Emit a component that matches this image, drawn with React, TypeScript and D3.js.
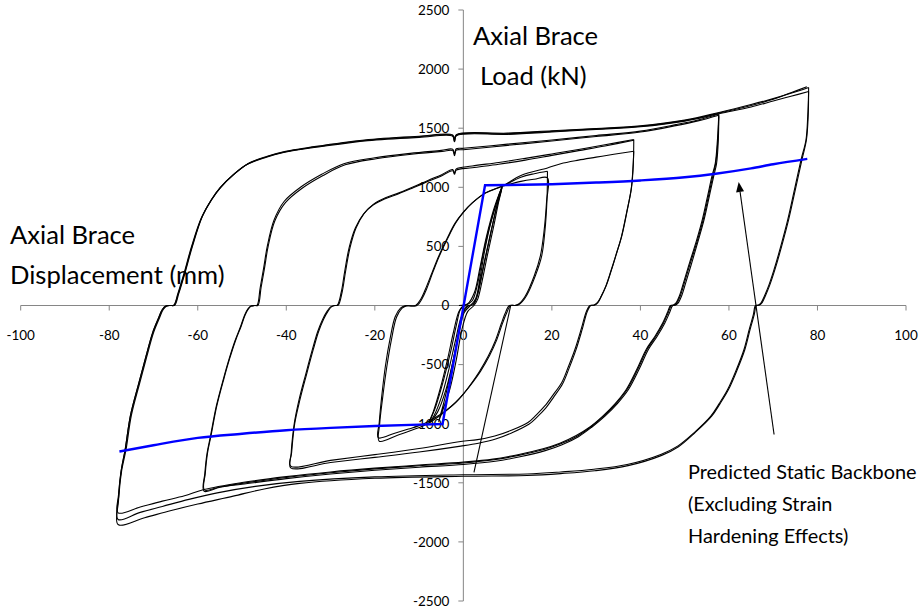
import React, { useEffect, useRef } from 'react';
import * as d3 from 'd3';

// axis ticks
const xTicks = [-100, -80, -60, -40, -20, 0, 20, 40, 60, 80, 100];
const yTicks = [-2500, -2000, -1500, -1000, -500, 0, 500, 1000, 1500, 2000, 2500];

// predicted static backbone (displacement mm, load kN), in three branches
const backboneCompression = [
  [-77.7, -1235], [-70, -1182], [-60, -1120], [-50, -1085], [-40, -1055], [-30, -1035],
  [-20, -1020], [-10, -1008], [-4.7, -1003]
];
const backboneElastic = [[-4.7, -1003], [4.9, 1017]];
const backboneTension = [
  [4.9, 1017], [10, 1019], [20, 1026], [30, 1040], [40, 1058], [50, 1085], [57, 1115],
  [65, 1160], [70, 1195], [77.7, 1241]
];

// small elastic cycles
const elastic1 = [
  [-1, 0], [1, 15], [2.5, 110], [3.8, 330], [5.2, 580], [7, 830], [8.8, 1009], [7.6, 850], [6.2, 620],
  [4.8, 380], [3.6, 160], [2.6, 30], [1.6, 0], [0.2, -60], [-1, -230], [-2.4, -480], [-4, -720],
  [-5.8, -900], [-7.6, -990], [-6.2, -850], [-4.4, -620], [-2.8, -380], [-1.6, -170], [-0.6, -30], [0.4, 0]
];
const elastic2 = [
  [0.4, 0], [2, 40], [3.2, 180], [4.4, 420], [5.8, 650], [7.4, 860], [8.8, 1009], [8, 880], [6.8, 660],
  [5.4, 420], [4.2, 200], [3.2, 50], [2.4, 0], [1, -50], [-0.3, -200], [-1.6, -460], [-3, -700],
  [-4.6, -880], [-5.6, -985], [-4.4, -820], [-2.8, -560], [-1.4, -300], [-0.4, -100], [0.6, -10], [1.6, 0]
];
const elastic3 = [
  [1.6, 0], [2.8, 60], [3.8, 240], [4.8, 460], [6.2, 700], [7.6, 880], [8.8, 1009], [7.2, 780],
  [5.8, 540], [4.4, 300], [3.2, 90], [2.2, 5], [1.2, 0], [-0.4, -90], [-1.8, -300], [-3.4, -560],
  [-5, -780], [-6.6, -930], [-7.8, -992], [-6.8, -900], [-5.2, -700], [-3.6, -460], [-2.2, -220],
  [-1, -50], [0, 0]
];

// +/-18 mm cycles
const cycle18a = [
  [8.8, 1009], [13, 1050], [16, 1068], [19, 1080],
  [18.8, 880], [18.2, 620], [17.4, 420], [16, 250], [14, 80], [12.6, 15], [11.6, 0], [10.4, 0],
  [9.4, -70], [8.6, -150], [7.2, -300], [5.6, -430], [3.6, -560], [1.8, -660], [0, -750], [-1.9, -825],
  [-3.9, -888], [-5.6, -930], [-7.6, -975], [-9.5, -1010], [-12.4, -1045], [-15.5, -1080], [-19.2, -1119],
  [-19, -990], [-18.5, -790], [-17.6, -510], [-16.5, -270], [-15.4, -95], [-14.2, -22], [-13.2, -2], [-10.8, 0],
  [-9.6, 55], [-8.6, 135], [-7.1, 275], [-5.6, 415], [-3.7, 565], [-1.9, 695], [0, 790], [2, 868], [5, 952],
  [8.8, 1009], [13, 1085], [16, 1115], [19, 1136]
];
const cycle18b = [
  [19, 1136], [18.9, 900], [18.4, 620], [17.7, 420], [16.3, 255], [14.3, 85], [12.8, 15], [11.8, 0], [10.7, 0],
  [9.7, -70], [8.9, -145], [7.5, -295], [5.9, -425], [3.9, -555], [2.1, -650], [0.2, -740], [-1.7, -820],
  [-3.7, -885], [-5.4, -935], [-7.4, -985], [-9.3, -1022], [-12, -1060], [-15, -1100], [-19, -1148],
  [-18.9, -1000], [-18.3, -800], [-17.3, -520], [-16.2, -280], [-15.1, -100], [-13.9, -25], [-12.9, -3], [-10.5, 0],
  [-9.3, 60], [-8.3, 140], [-6.9, 280], [-5.4, 420], [-3.5, 570], [-1.7, 700], [0.1, 792], [2.1, 870], [5.1, 955],
  [8.8, 1010], [13, 1100], [19, 1164], [22, 1200], [26, 1230], [30, 1255], [34, 1280], [38.5, 1305]
];
const jumpLine = [[10.7, 0], [2.4, -1412]];

// +/-38 mm cycles
const cycle38a = [
  [38.5, 1305], [38.3, 1150], [37.9, 980], [36.9, 790], [35.7, 580], [34.5, 430], [33.4, 300], [32.2, 165],
  [31.1, 75], [30.2, 22], [29.4, 3], [28.6, 0],
  [27.8, -50], [26.7, -190], [25.2, -372], [23.7, -520], [22.2, -654], [20.2, -760], [18.4, -850], [16.5, -925],
  [14.6, -990], [10.7, -1058], [7.1, -1104], [3.2, -1135], [-0.6, -1150], [-10, -1210], [-20, -1262], [-30, -1310],
  [-39, -1359],
  [-38.8, -1246], [-38.1, -1000], [-36.9, -795], [-35.4, -580], [-33.9, -372], [-32.7, -220], [-31.6, -118],
  [-30.6, -50], [-29.8, -12], [-29, 0], [-28.3, 2],
  [-27.4, 110], [-26.6, 290], [-25.6, 490], [-24.2, 660], [-22.4, 780], [-20.2, 860], [-17.6, 912],
  [-14.4, 955], [-11, 1008], [-8, 1058], [-5, 1105], [-2.4, 1150], [-2, 1118], [-1.6, 1156], [2, 1180],
  [8, 1210], [14, 1245], [20, 1282], [26, 1320], [32, 1360], [38.5, 1404]
];
const cycle38b = [
  [38.5, 1404], [38.4, 1200], [38, 1000], [37, 800], [35.8, 590], [34.6, 440], [33.5, 305], [32.3, 170],
  [31.2, 80], [30.4, 25], [29.6, 3], [28.8, 0],
  [28, -50], [26.9, -195], [25.4, -380], [23.9, -530], [22.4, -665], [20.4, -775], [18.6, -868], [16.7, -942],
  [14.8, -1005], [10.9, -1078], [7.3, -1130], [3.4, -1165], [-0.6, -1190], [-10, -1240], [-20, -1285],
  [-30, -1328], [-39, -1373],
  [-38.9, -1250], [-38.2, -1000], [-37.1, -795], [-35.6, -580], [-34.1, -372], [-32.9, -220], [-31.8, -118],
  [-30.8, -50], [-30, -12], [-29.2, 0], [-28.5, 2],
  [-27.6, 110], [-26.8, 290], [-25.8, 490], [-24.4, 655], [-22.6, 772], [-20.4, 850], [-17.8, 902],
  [-14.6, 945], [-11.2, 998], [-8.2, 1046], [-5.2, 1092], [-2.4, 1140], [-2, 1110], [-1.6, 1145], [2, 1165],
  [8, 1195], [14, 1230], [20, 1270], [26, 1310], [32, 1350], [38.5, 1398]
];

// +/-58 mm cycles
const cycle58a = [
  [57.7, 1600], [57.5, 1400], [57, 1200], [56.4, 1100], [55.4, 930], [54.2, 728], [52.8, 540], [51.3, 361],
  [50, 200], [49, 80], [48.2, 20], [47.6, 3], [47, 0],
  [46.3, -60], [45.2, -150], [43.5, -260], [41.5, -372], [39.4, -540], [37, -711], [34.5, -830], [31.7, -936],
  [28.7, -1030], [25.7, -1106], [22, -1170], [18.2, -1218], [12.5, -1268], [6.9, -1305], [0, -1332],
  [-10, -1356], [-20, -1382], [-30, -1415], [-40, -1455], [-50, -1505], [-55, -1538], [-58.6, -1571],
  [-58.4, -1420], [-57.9, -1250], [-57.1, -1100], [-55.8, -850], [-54.2, -620], [-52.9, -450], [-51.6, -300],
  [-50.3, -175], [-49.4, -80], [-48.7, -30], [-48, -5], [-47.2, 0], [-46.6, 2],
  [-45.9, 150], [-45.1, 320], [-44.3, 500], [-42.8, 720], [-40.5, 880], [-36.8, 1000], [-32, 1110], [-27, 1200],
  [-20, 1250], [-12, 1287], [-5, 1312], [-2.4, 1322], [-2, 1280], [-1.6, 1326], [0, 1330], [10, 1365],
  [20, 1400], [30, 1438], [40, 1475], [48, 1530], [53, 1570], [57.7, 1620]
];
const cycle58b = [
  [57.7, 1620], [57.6, 1400], [57.2, 1200], [56.6, 1100], [55.6, 930], [54.4, 728], [53, 540], [51.6, 361],
  [50.3, 200], [49.3, 80], [48.5, 20], [47.9, 3], [47.3, 0],
  [46.6, -60], [45.5, -150], [43.8, -260], [41.8, -372], [39.7, -540], [37.3, -711], [34.8, -830], [32, -936],
  [29, -1030], [26, -1110], [22.3, -1178], [18.5, -1228], [12.8, -1280], [7.2, -1318], [0, -1345],
  [-10, -1368], [-20, -1394], [-30, -1426], [-40, -1465], [-50, -1512], [-55, -1535], [-58.5, -1560],
  [-58.3, -1420], [-57.8, -1250], [-57, -1100], [-55.7, -850], [-54.1, -620], [-52.8, -450], [-51.5, -300],
  [-50.2, -175], [-49.3, -80], [-48.6, -30], [-47.9, -5], [-47.1, 0], [-46.4, 2],
  [-45.7, 150], [-44.9, 320], [-44.1, 500], [-42.6, 715], [-40.2, 870], [-36.5, 990], [-31.7, 1100],
  [-26.7, 1190], [-19.7, 1242], [-11.7, 1280], [-4.8, 1304], [-2.4, 1310], [-2, 1268], [-1.6, 1314],
  [0, 1318], [10, 1355], [20, 1392], [30, 1430], [40, 1468], [48, 1522], [53, 1562], [57.7, 1610]
];
const cycle58c = [
  [57.7, 1610], [57.4, 1400], [56.9, 1200], [56.2, 1100], [55.2, 930], [54, 728], [52.6, 540], [51.1, 361],
  [49.8, 200], [48.8, 80], [48, 20], [47.4, 3], [46.8, 0],
  [46.1, -60], [45, -150], [43.3, -260], [41.3, -372], [39.2, -540], [36.8, -711], [34.3, -830], [31.5, -936],
  [28.5, -1030], [25.5, -1100], [21.8, -1165], [18, -1212], [12.3, -1262], [6.7, -1300], [0, -1325],
  [-10, -1350], [-20, -1376], [-30, -1408], [-40, -1448], [-50, -1498], [-58.6, -1557], [-63, -1610],
  [-68, -1655], [-73, -1705], [-78, -1754],
  [-77.9, -1600], [-77.3, -1400], [-76.4, -1218], [-75.2, -930], [-73.3, -654], [-71.7, -430], [-70.2, -231],
  [-68.9, -110], [-68, -34], [-67.2, -5], [-66.2, 0], [-65.4, 2],
  [-64.5, 100], [-63.2, 260], [-61.4, 500], [-59.2, 740], [-57, 890], [-55, 995], [-52, 1105], [-48.8, 1195],
  [-44.5, 1255], [-40.6, 1295], [-32, 1345], [-21.6, 1395], [-10, 1422], [-2.4, 1432], [-2, 1385], [-1.6, 1435],
  [10, 1448], [20, 1468], [30, 1490], [40, 1512], [50, 1560], [58, 1625], [65, 1680], [70, 1730], [74, 1770],
  [78, 1810]
];

// +/-78 mm cycles
const cycle78a = [
  [78, 1810], [77.8, 1600], [77.4, 1400], [76.3, 1235], [74.8, 980], [73.3, 728], [71.7, 500], [70.2, 305],
  [69, 170], [68, 79], [67.3, 25], [66.6, 3], [66, 0],
  [65.5, -80], [64.6, -200], [63.4, -372], [61.6, -550], [59.7, -711], [57.8, -830], [55.9, -936], [52.1, -1077],
  [48.4, -1190], [44.6, -1260], [37, -1345], [29.5, -1385], [22, -1408], [14.4, -1425], [0, -1432], [-20, -1450],
  [-37, -1488], [-47, -1530], [-55.6, -1585], [-62, -1640], [-68, -1700], [-73, -1750], [-78, -1810],
  [-77.8, -1600], [-77.2, -1400], [-76.2, -1218], [-75, -930], [-73.1, -654], [-71.5, -430], [-70, -231],
  [-68.7, -110], [-67.8, -34], [-67, -5], [-66, 0], [-65.2, 2],
  [-64.3, 100], [-63, 260], [-61.2, 500], [-59, 750], [-56.8, 900], [-54.8, 1000], [-51.8, 1112], [-48.6, 1202],
  [-44.3, 1262], [-40.4, 1302], [-31.8, 1354], [-21.4, 1404], [-10, 1432], [-2.4, 1442], [-2, 1392], [-1.6, 1445],
  [10, 1458], [20, 1478], [30, 1498], [40, 1520], [50, 1568], [58, 1635], [65, 1700], [70, 1750], [74, 1795],
  [78, 1845]
];
const cycle78b = [
  [78, 1845], [77.9, 1600], [77.5, 1400], [76.5, 1235], [75, 980], [73.5, 728], [71.9, 500], [70.4, 305],
  [69.2, 170], [68.2, 79], [67.5, 25], [66.8, 3], [66.2, 0],
  [65.7, -80], [64.8, -200], [63.6, -372], [61.8, -550], [59.9, -711], [58, -830], [56.1, -936], [52.3, -1077],
  [48.6, -1195], [44.8, -1268], [37.2, -1355], [29.7, -1398], [22, -1422], [14.4, -1438], [0, -1445],
  [-20, -1462], [-37, -1505], [-45, -1552], [-52, -1613], [-60, -1680], [-66, -1735], [-72, -1795], [-78, -1853],
  [-77.9, -1650], [-77.4, -1420], [-76.4, -1218], [-75.2, -930], [-73.3, -654], [-71.7, -430], [-70.2, -231],
  [-68.9, -110], [-68, -34], [-67.2, -5], [-66.2, 0], [-65.4, 2],
  [-64.4, 100], [-63.1, 260], [-61.3, 500], [-59.1, 745], [-56.9, 895], [-54.9, 998], [-51.9, 1108],
  [-48.7, 1198], [-44.4, 1258], [-40.5, 1298], [-31.9, 1350], [-21.5, 1400], [-10, 1428], [-2.4, 1438],
  [-2, 1388], [-1.6, 1440], [10, 1453], [20, 1473], [30, 1494], [40, 1516], [50, 1564], [58, 1630],
  [65, 1692], [70, 1745], [74, 1800], [77.6, 1850]
];

const loops = [
  elastic1, elastic2, elastic3, cycle18a, cycle18b, jumpLine, cycle38a, cycle38b,
  cycle58a, cycle58b, cycle58c, cycle78a, cycle78b
];

// arrow pointing at the backbone (tail, head) in data units
const arrowTail = [70.2, -1091];
const arrowHead = [62.2, 1045];

const FONT = 'Lato, "Open Sans", sans-serif';

export default function App() {
  const ref = useRef<SVGSVGElement>(null);

  useEffect(() => {
    const svg = d3.select(ref.current);
    svg.selectAll('*').remove();

    const x = d3.scaleLinear().domain([-100, 100]).range([20.7, 906]);
    const y = d3.scaleLinear().domain([-2500, 2500]).range([601, 10]);
    const axisColor = '#868686';

    // x axis
    const gx = svg.append('g');
    gx.append('line')
      .attr('x1', x(-100)).attr('x2', x(100))
      .attr('y1', y(0)).attr('y2', y(0))
      .attr('stroke', axisColor).attr('stroke-width', 1);
    gx.selectAll('.xt').data(xTicks).enter().append('line')
      .attr('x1', d => x(d)).attr('x2', d => x(d))
      .attr('y1', y(0)).attr('y2', y(0) + 5)
      .attr('stroke', axisColor);
    gx.selectAll('.xl').data(xTicks).enter().append('text')
      .attr('x', d => x(d)).attr('y', y(0) + 34)
      .attr('text-anchor', 'middle')
      .attr('font-family', FONT).attr('font-size', 13.5)
      .text(d => String(d));

    // y axis
    const gy = svg.append('g');
    gy.append('line')
      .attr('x1', x(0)).attr('x2', x(0))
      .attr('y1', y(2500)).attr('y2', y(-2500))
      .attr('stroke', axisColor);
    gy.selectAll('.yt').data(yTicks).enter().append('line')
      .attr('x1', x(0) - 5).attr('x2', x(0))
      .attr('y1', d => y(d)).attr('y2', d => y(d))
      .attr('stroke', axisColor);
    gy.selectAll('.yl').data(yTicks).enter().append('text')
      .attr('x', x(0) - 14).attr('y', d => y(d))
      .attr('dy', '0.36em')
      .attr('text-anchor', 'end')
      .attr('font-family', FONT).attr('font-size', 13.5)
      .text(d => String(d));

    // hysteresis loops
    const line = d3.line<number[]>()
      .x(d => x(d[0]))
      .y(d => y(d[1]))
      .curve(d3.curveCatmullRom.alpha(0.5));

    svg.append('g').selectAll('path').data(loops).enter().append('path')
      .attr('d', d => line(d))
      .attr('fill', 'none')
      .attr('stroke', '#000')
      .attr('stroke-width', 1.1);

    // backbone
    const smooth = d3.line<number[]>().x(d => x(d[0])).y(d => y(d[1])).curve(d3.curveMonotoneX);
    const straight = d3.line<number[]>().x(d => x(d[0])).y(d => y(d[1]));
    const bb = smooth(backboneCompression) + straight(backboneElastic)!.replace(/^M/, 'L') +
      smooth(backboneTension)!.replace(/^M/, 'L');
    svg.append('path')
      .attr('d', bb)
      .attr('fill', 'none')
      .attr('stroke', '#0000ff')
      .attr('stroke-width', 2.4)
      .attr('stroke-linejoin', 'miter');

    // arrow
    const hx = x(arrowHead[0]), hy = y(arrowHead[1]);
    const tx = x(arrowTail[0]), ty = y(arrowTail[1]);
    const ang = Math.atan2(hy - ty, hx - tx);
    const len = 10, wid = 4;
    const bx = hx - len * Math.cos(ang), by = hy - len * Math.sin(ang);
    svg.append('line')
      .attr('x1', tx).attr('y1', ty).attr('x2', bx).attr('y2', by)
      .attr('stroke', '#000').attr('stroke-width', 1.1);
    svg.append('polygon')
      .attr('points', [
        [hx, hy],
        [bx + wid * Math.sin(ang), by - wid * Math.cos(ang)],
        [bx - wid * Math.sin(ang), by + wid * Math.cos(ang)]
      ].map(p => p.join(',')).join(' '))
      .attr('fill', '#000');

    // titles
    const title = (tx: number, ty: number, s: string, size: number) =>
      svg.append('text')
        .attr('x', tx).attr('y', ty)
        .attr('font-family', FONT).attr('font-size', size)
        .attr('fill', '#000')
        .text(s);

    title(473, 45, 'Axial Brace', 25.6);
    title(480, 85, 'Load (kN)', 25.6);
    title(10, 244, 'Axial Brace', 25.6);
    title(10, 284, 'Displacement (mm)', 25.6);
    title(688, 479, 'Predicted Static Backbone', 19.9);
    title(688, 511, '(Excluding Strain', 19.9);
    title(688, 543, 'Hardening Effects)', 19.9);
  }, []);

  return (
    <svg
      ref={ref}
      width={921}
      height={609}
      style={{ position: 'absolute', left: 0, top: 0, background: '#fff' }}
    />
  );
}
